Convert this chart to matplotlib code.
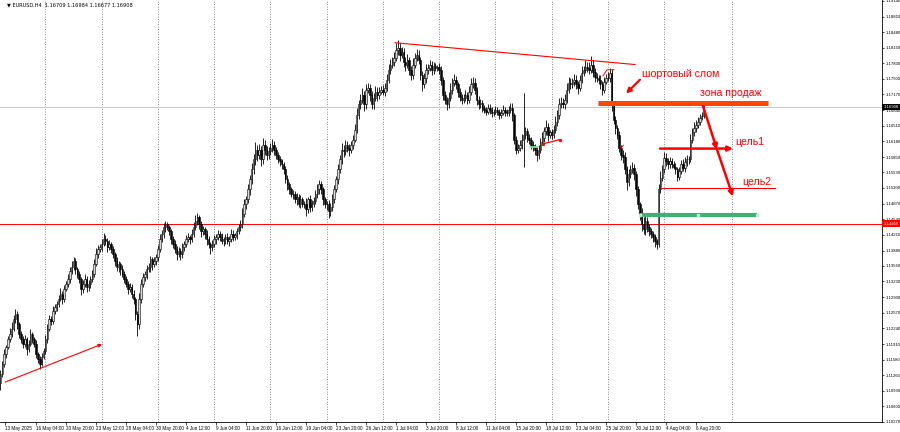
import matplotlib

matplotlib.use("Agg")
import matplotlib.pyplot as plt
import matplotlib.transforms as mtransforms
import numpy as np

# EURUSD H4 closes, one row per trading day (13 May .. 7 Aug 2025)
FIRST_OPEN = 1.1110
CLOSES = [
    1.1129, 1.1149, 1.1170, 1.1185, 1.1202, 1.1213,  # 13 May
    1.1223, 1.1244, 1.1254, 1.1233, 1.1212, 1.1202,
    1.1192, 1.1202, 1.1181, 1.1192, 1.1213, 1.1202,
    1.1192, 1.1171, 1.1160, 1.1150, 1.1164, 1.1177,
    1.1202, 1.1223, 1.1244, 1.1240, 1.1261, 1.1269,  # 19 May
    1.1276, 1.1286, 1.1297, 1.1286, 1.1307, 1.1318,
    1.1328, 1.1345, 1.1353, 1.1366, 1.1349, 1.1339,
    1.1328, 1.1307, 1.1318, 1.1328, 1.1311, 1.1318,
    1.1328, 1.1339, 1.1360, 1.1381, 1.1391, 1.1395,
    1.1402, 1.1412, 1.1408, 1.1395, 1.1402, 1.1391,  # 26 May
    1.1381, 1.1366, 1.1353, 1.1360, 1.1349, 1.1339,
    1.1328, 1.1318, 1.1307, 1.1311, 1.1297, 1.1286,
    1.1254, 1.1233, 1.1286, 1.1318, 1.1332, 1.1339,
    1.1349, 1.1353, 1.1370, 1.1360, 1.1366, 1.1374,
    1.1391, 1.1412, 1.1423, 1.1437, 1.1444, 1.1437,  # 2 Jun
    1.1429, 1.1412, 1.1402, 1.1391, 1.1381, 1.1387,
    1.1381, 1.1395, 1.1402, 1.1412, 1.1416, 1.1412,
    1.1423, 1.1437, 1.1450, 1.1458, 1.1444, 1.1429,
    1.1433, 1.1423, 1.1412, 1.1402, 1.1395, 1.1402,
    1.1412, 1.1416, 1.1423, 1.1416, 1.1408, 1.1412,  # 9 Jun
    1.1416, 1.1408, 1.1412, 1.1423, 1.1416, 1.1420,
    1.1429, 1.1437, 1.1444, 1.1465, 1.1486, 1.1496,
    1.1517, 1.1538, 1.1559, 1.1580, 1.1601, 1.1590,
    1.1601, 1.1580, 1.1611, 1.1601, 1.1590, 1.1597,
    1.1605, 1.1611, 1.1601, 1.1590, 1.1580, 1.1576,  # 16 Jun
    1.1570, 1.1559, 1.1538, 1.1528, 1.1517, 1.1507,
    1.1507, 1.1496, 1.1500, 1.1486, 1.1496, 1.1486,
    1.1486, 1.1475, 1.1496, 1.1479, 1.1486, 1.1492,
    1.1507, 1.1517, 1.1528, 1.1517, 1.1496, 1.1486,
    1.1486, 1.1471, 1.1479, 1.1496, 1.1517, 1.1538,  # 23 Jun
    1.1559, 1.1580, 1.1601, 1.1597, 1.1611, 1.1605,
    1.1601, 1.1611, 1.1622, 1.1643, 1.1674, 1.1696,
    1.1706, 1.1716, 1.1696, 1.1727, 1.1731, 1.1716,
    1.1696, 1.1710, 1.1723, 1.1716, 1.1723, 1.1727,
    1.1723, 1.1731, 1.1748, 1.1769, 1.1780, 1.1786,  # 30 Jun
    1.1794, 1.1811, 1.1815, 1.1801, 1.1807, 1.1786,
    1.1780, 1.1790, 1.1769, 1.1759, 1.1780, 1.1794,
    1.1801, 1.1790, 1.1759, 1.1738, 1.1752, 1.1769,
    1.1773, 1.1780, 1.1769, 1.1777, 1.1773, 1.1775,
    1.1769, 1.1748, 1.1716, 1.1706, 1.1696, 1.1710,  # 7 Jul
    1.1727, 1.1742, 1.1748, 1.1738, 1.1723, 1.1712,
    1.1706, 1.1710, 1.1716, 1.1706, 1.1723, 1.1738,
    1.1742, 1.1727, 1.1706, 1.1696, 1.1700, 1.1689,
    1.1685, 1.1681, 1.1689, 1.1685, 1.1679, 1.1681,
    1.1685, 1.1681, 1.1674, 1.1679, 1.1685, 1.1681,  # 14 Jul
    1.1679, 1.1685, 1.1689, 1.1674, 1.1622, 1.1601,
    1.1605, 1.1611, 1.1622, 1.1632, 1.1639, 1.1626,
    1.1622, 1.1611, 1.1607, 1.1601, 1.1590, 1.1601,
    1.1616, 1.1626, 1.1639, 1.1649, 1.1632, 1.1637,
    1.1632, 1.1643, 1.1660, 1.1674, 1.1696, 1.1700,  # 21 Jul
    1.1696, 1.1706, 1.1727, 1.1742, 1.1738, 1.1744,
    1.1748, 1.1738, 1.1731, 1.1748, 1.1763, 1.1769,
    1.1775, 1.1773, 1.1769, 1.1780, 1.1765, 1.1754,
    1.1752, 1.1748, 1.1738, 1.1727, 1.1744, 1.1752,
    1.1752, 1.1763, 1.1695, 1.1664, 1.1647, 1.1632,  # 28 Jul
    1.1605, 1.1590, 1.1586, 1.1559, 1.1532, 1.1549,
    1.1559, 1.1563, 1.1549, 1.1517, 1.1486, 1.1465,
    1.1444, 1.1433, 1.1450, 1.1437, 1.1429, 1.1423,
    1.1416, 1.1408, 1.1402, 1.1517, 1.1542, 1.1559,
    1.1584, 1.1576, 1.1570, 1.1576, 1.1570, 1.1565,  # 4 Aug
    1.1559, 1.1544, 1.1555, 1.1570, 1.1563, 1.1574,
    1.1580, 1.1580, 1.1622, 1.1637, 1.1647, 1.1653,
    1.1660, 1.1668, 1.16709, 1.16908,
]

# wick lengths above / below the body, in pips
UPPER_WICK_PIPS = [
    8, 6, 10, 5, 7, 12, 14, 9, 12, 6, 5, 7, 6, 9, 5, 8, 10, 4, 5, 7, 4, 6, 9, 5,
    8, 11, 9, 6, 10, 7, 6, 9, 12, 5, 8, 7, 10, 8, 14, 9, 6, 5, 7, 5, 9, 11, 6, 8,
    6, 9, 10, 12, 8, 7, 11, 14, 8, 6, 9, 5, 6, 5, 8, 7, 5, 9, 7, 6, 5, 9, 6, 8,
    5, 7, 12, 10, 9, 6, 8, 10, 7, 5, 9, 6, 9, 12, 8, 10, 7, 5, 6, 5, 7, 9, 6, 8,
    7, 10, 6, 8, 9, 5, 10, 12, 14, 9, 6, 7, 6, 5, 8, 6, 5, 9, 8, 6, 9, 7, 10, 5,
    7, 9, 6, 10, 8, 6, 6, 8, 9, 12, 10, 8, 12, 10, 14, 11, 16, 9, 12, 8, 14, 10, 7, 9,
    10, 13, 8, 6, 5, 7, 6, 5, 7, 9, 5, 6, 8, 6, 10, 7, 9, 5, 7, 12, 6, 9, 8, 10,
    9, 11, 8, 7, 5, 6, 6, 9, 10, 12, 9, 8, 12, 10, 14, 9, 11, 8, 7, 9, 10, 12, 14, 10,
    12, 15, 9, 13, 10, 7, 8, 11, 12, 9, 10, 8, 9, 10, 13, 12, 11, 9, 12, 14, 16, 10, 9, 7,
    10, 12, 6, 8, 14, 11, 12, 9, 6, 8, 10, 12, 8, 10, 7, 9, 6, 5, 9, 7, 6, 8, 5, 12,
    14, 10, 12, 8, 6, 7, 6, 8, 10, 7, 12, 14, 12, 9, 6, 7, 8, 5, 6, 5, 8, 7, 5, 6,
    7, 6, 5, 8, 9, 6, 6, 8, 10, 9, 5, 7, 8, 10, 12, 89, 9, 7, 7, 6, 9, 5, 8, 10,
    9, 12, 10, 14, 8, 6, 7, 9, 12, 10, 14, 11, 10, 13, 15, 12, 9, 8, 12, 10, 8, 11, 14, 9,
    15, 10, 12, 18, 9, 7, 8, 6, 9, 7, 10, 8, 12, 10, 8, 9, 7, 6, 8, 6, 9, 10, 7, 12,
    9, 11, 8, 6, 7, 5, 12, 15, 10, 9, 8, 6, 7, 6, 5, 12, 14, 10, 11, 9, 8, 10, 7, 6,
    8, 6, 10, 9, 11, 12, 9, 8, 12, 10, 13, 11, 10, 8, 9, 8,
]
LOWER_WICK_PIPS = [
    15, 8, 6, 9, 5, 7, 6, 5, 8, 10, 7, 9, 9, 6, 12, 7, 5, 8, 7, 10, 8, 12, 6, 5,
    6, 8, 5, 9, 7, 6, 8, 6, 5, 10, 7, 5, 6, 9, 7, 5, 10, 8, 9, 12, 8, 6, 10, 7,
    8, 6, 7, 5, 9, 6, 7, 5, 9, 10, 6, 8, 8, 10, 7, 9, 12, 6, 9, 7, 10, 6, 8, 11,
    12, 25, 10, 8, 6, 7, 10, 7, 9, 12, 6, 8, 7, 6, 5, 8, 9, 6, 8, 10, 9, 7, 12, 6,
    12, 8, 7, 6, 5, 9, 6, 7, 5, 8, 10, 12, 8, 10, 12, 9, 14, 7, 6, 9, 5, 8, 7, 10,
    9, 7, 10, 6, 8, 5, 7, 6, 8, 9, 6, 10, 8, 12, 9, 10, 11, 14, 10, 14, 9, 12, 11, 8,
    8, 9, 12, 10, 7, 9, 9, 10, 8, 12, 9, 7, 10, 8, 11, 7, 9, 6, 9, 14, 8, 10, 7, 6,
    6, 8, 9, 10, 12, 8, 12, 15, 9, 8, 7, 6, 9, 8, 10, 12, 7, 9, 14, 8, 9, 6, 7, 8,
    9, 8, 14, 10, 7, 12, 10, 9, 7, 12, 8, 6, 8, 10, 7, 6, 9, 8, 9, 7, 10, 14, 8, 12,
    14, 8, 10, 12, 9, 7, 6, 9, 12, 14, 8, 10, 9, 7, 10, 8, 6, 7, 8, 12, 10, 9, 11, 7,
    6, 9, 8, 10, 12, 9, 10, 8, 7, 9, 6, 8, 7, 9, 12, 10, 8, 9, 8, 7, 6, 9, 10, 7,
    6, 8, 9, 7, 6, 10, 8, 7, 6, 12, 10, 9, 8, 7, 9, 57, 8, 10, 9, 8, 10, 12, 14, 8,
    7, 6, 9, 8, 12, 7, 8, 6, 7, 9, 8, 7, 7, 9, 8, 6, 10, 8, 9, 10, 12, 7, 6, 8,
    7, 9, 8, 6, 12, 10, 8, 10, 9, 12, 7, 6, 7, 9, 12, 10, 14, 9, 10, 12, 14, 9, 16, 8,
    9, 8, 12, 14, 10, 12, 14, 10, 12, 9, 11, 8, 9, 12, 10, 6, 8, 7, 8, 10, 9, 7, 8, 6,
    9, 10, 8, 6, 7, 9, 7, 9, 6, 8, 7, 9, 6, 8, 5, 3,
]

# axis labels
PRICE_TICKS = [
    1.19140, 1.18810, 1.18480, 1.18150, 1.17830, 1.17500, 1.17170, 1.16840,
    1.16510, 1.16180, 1.15850, 1.15530, 1.15200, 1.14870, 1.14540, 1.14210,
    1.13880, 1.13560, 1.13230, 1.12900, 1.12570, 1.12240, 1.11910, 1.11580,
    1.11260, 1.10930, 1.10600, 1.10270,
]
XTICK_BARS = [2.5, 19, 35, 51, 67, 83, 99, 115, 131, 147, 163, 179, 195, 211,
              227, 243, 259, 275, 291, 307, 323, 339, 355, 371]
XTICK_LABELS = [
    "13 May 2025", "16 May 04:00", "20 May 20:00", "23 May 12:00", "28 May 04:00",
    "30 May 20:00", "4 Jun 12:00", "9 Jun 04:00", "11 Jun 20:00", "16 Jun 12:00",
    "19 Jun 04:00", "23 Jun 20:00", "26 Jun 12:00", "1 Jul 04:00", "3 Jul 20:00",
    "8 Jul 12:00", "11 Jul 04:00", "15 Jul 20:00", "18 Jul 12:00", "23 Jul 04:00",
    "25 Jul 20:00", "30 Jul 12:00", "4 Aug 04:00", "6 Aug 20:00",
]
WEEK_START_BARS = [24, 54, 84, 114, 144, 174, 204, 234, 264, 294, 324, 354, 390]

TITLE = "\u25bc EURUSD,H4  1.16709 1.16984 1.16677 1.16908"
BID = 1.16908
RED_LEVEL = 1.14450

# drawn objects (bar index, price)
TREND_UP_BARS = [2.5, 54.2]
TREND_UP_PRICES = [1.1111, 1.1191]
TOP_LINE_BARS = [210.5, 338.5]
TOP_LINE_PRICES = [1.1826, 1.1780]
HAT_BARS = [321.4, 323.5, 327.2]
HAT_PRICES = [1.1756, 1.1769, 1.1769]
TICK_BARS = [331.0, 332.2]
TICK_PRICES = [1.1603, 1.1610]
RED_SEG_BARS = [289.4, 298.5]
RED_SEG_PRICES = [1.1613, 1.1622]
GREEN_SEG_BARS = [282.5, 286.7]
GREEN_SEG_PRICE = 1.1607
SELL_ZONE_BARS = [318.7, 409.4]
SELL_ZONE = 1.1700
BREAK_ARROW_BARS = [341.1, 333.7]
BREAK_ARROW_PRICES = [1.1748, 1.1719]
TARGET1_BARS = [351.8, 390.7]
TARGET1 = 1.1603
TARGET2_BARS = [352.9, 413.1]
TARGET2 = 1.1521
SUPPORT_BARS = [341.1, 403.5]
SUPPORT = 1.1464
PATH_BARS = [374.7, 382.2, 390.7]
PATH_PRICES = [1.1693, 1.1601, 1.1502]
LABELS = [
    ("шортовый слом", 342.2, 1.1761),
    ("зона продаж", 373.1, 1.1721),
    ("цель1", 391.8, 1.1616),
    ("цель2", 395.5, 1.1532),
]

RED = "#ff0000"
ORANGE = "#ff4500"
GREEN = "#3cb371"


def main() -> None:
    closes = np.asarray(CLOSES, dtype=float)
    opens = np.concatenate([[FIRST_OPEN], closes[:-1]])
    highs = np.maximum(opens, closes) + np.asarray(UPPER_WICK_PIPS) * 1e-4
    lows = np.minimum(opens, closes) - np.asarray(LOWER_WICK_PIPS) * 1e-4
    x = np.arange(len(closes), dtype=float)
    bull = closes >= opens

    fig = plt.figure(figsize=(9, 4.32), dpi=100)
    ax = fig.add_axes([0.0, 10 / 432, 882 / 900, 422 / 432])
    ax.set_xlim(-0.2, 470.2)
    ax.set_ylim(1.1027, 1.1916)

    for b in WEEK_START_BARS:
        ax.axvline(b, color="#606060", lw=0.6, ls=(0, (1, 2)), zorder=0)

    ax.axhline(BID, color="#c8c8c8", lw=0.7, zorder=1)
    ax.axhline(RED_LEVEL, color=RED, lw=0.7, zorder=1)

    # candles
    ax.vlines(x, lows, highs, color="black", lw=0.6, zorder=2)
    body = np.where(np.abs(closes - opens) < 2e-5, 2e-5, closes - opens)
    ax.bar(x[bull], body[bull], bottom=opens[bull], width=0.8,
           color="#d8d8d8", edgecolor="black", linewidth=0.4, zorder=3)
    ax.bar(x[~bull], body[~bull], bottom=opens[~bull], width=0.8,
           color="black", edgecolor="black", linewidth=0.4, zorder=3)

    # drawings
    ax.annotate("", xy=(TREND_UP_BARS[1], TREND_UP_PRICES[1]),
                xytext=(TREND_UP_BARS[0], TREND_UP_PRICES[0]),
                arrowprops=dict(arrowstyle="-|>", color=RED, lw=0.8,
                                mutation_scale=5, shrinkA=0, shrinkB=0), zorder=4)
    ax.plot(TOP_LINE_BARS, TOP_LINE_PRICES, color=RED, lw=0.8, zorder=4)
    ax.plot(HAT_BARS, HAT_PRICES, color=RED, lw=0.7, zorder=4)
    ax.plot(TICK_BARS, TICK_PRICES, color=RED, lw=0.7, zorder=4)
    ax.plot(RED_SEG_BARS, RED_SEG_PRICES, color=RED, lw=0.9, marker="s",
            ms=1.2, zorder=4)
    ax.plot(GREEN_SEG_BARS, [GREEN_SEG_PRICE] * 2, color="#90ee90", lw=1.2, zorder=4)

    ax.plot(SELL_ZONE_BARS, [SELL_ZONE] * 2, color=ORANGE, lw=3.6,
            solid_capstyle="butt", zorder=5)
    ax.plot(SUPPORT_BARS, [SUPPORT] * 2, color=GREEN, lw=3.0,
            solid_capstyle="butt", zorder=5)
    ax.plot(SUPPORT_BARS + [np.mean(SUPPORT_BARS)], [SUPPORT] * 3, ls="none",
            marker="s", ms=1.6, color="#b8f0c8", zorder=6)
    ax.plot(TARGET2_BARS, [TARGET2] * 2, color=RED, lw=0.8, zorder=5)
    ax.annotate("", xy=(TARGET1_BARS[1], TARGET1), xytext=(TARGET1_BARS[0], TARGET1),
                arrowprops=dict(arrowstyle="-|>", color=RED, lw=1.8,
                                mutation_scale=7, shrinkA=0, shrinkB=0), zorder=5)
    ax.annotate("", xy=(BREAK_ARROW_BARS[1], BREAK_ARROW_PRICES[1]),
                xytext=(BREAK_ARROW_BARS[0], BREAK_ARROW_PRICES[0]),
                arrowprops=dict(arrowstyle="-|>", color=RED, lw=1.6,
                                mutation_scale=7, shrinkA=0, shrinkB=0), zorder=5)
    for i in range(len(PATH_BARS) - 1):
        ax.annotate("", xy=(PATH_BARS[i + 1], PATH_PRICES[i + 1]),
                    xytext=(PATH_BARS[i], PATH_PRICES[i]),
                    arrowprops=dict(arrowstyle="-|>", color=RED, lw=1.8,
                                    mutation_scale=7, shrinkA=0, shrinkB=0), zorder=5)

    for text, bx, price in LABELS:
        ax.text(bx, price, text, color=RED, fontsize=7.6, family="Liberation Sans",
                ha="left", va="center", zorder=6)

    # axes styling like the terminal
    for side in ("top", "left"):
        ax.spines[side].set_visible(False)
    for side in ("right", "bottom"):
        ax.spines[side].set_linewidth(0.6)
    ax.yaxis.tick_right()
    ax.set_yticks(PRICE_TICKS)
    ax.set_yticklabels([f"{v:.5f}" for v in PRICE_TICKS])
    ax.set_xticks(XTICK_BARS)
    ax.set_xticklabels(XTICK_LABELS, ha="left")
    ax.tick_params(axis="y", length=1.5, width=0.5, pad=0.8, labelsize=3.1)
    ax.tick_params(axis="x", length=2, width=0.5, pad=1, labelsize=3.3)
    for lab in ax.get_xticklabels() + ax.get_yticklabels():
        lab.set_family("Liberation Sans")

    trans = mtransforms.blended_transform_factory(ax.transAxes, ax.transData)
    ax.text(1.002, BID, f"{BID:.5f}", transform=trans, fontsize=3.1,
            family="Liberation Sans", color="white", va="center", ha="left",
            bbox=dict(boxstyle="square,pad=0.3", fc="black", ec="none"),
            clip_on=False, zorder=7)
    ax.text(1.002, RED_LEVEL, f"{RED_LEVEL:.5f}", transform=trans, fontsize=3.1,
            family="Liberation Sans", color="white", va="center", ha="left",
            bbox=dict(boxstyle="square,pad=0.3", fc=RED, ec="none"),
            clip_on=False, zorder=7)

    fig.text(7 / 900, 1 - 5 / 432, TITLE, fontsize=3.6, family="DejaVu Sans",
             va="center", ha="left")

    fig.savefig("out.png", dpi=100)
    plt.close(fig)


if __name__ == "__main__":
    main()
